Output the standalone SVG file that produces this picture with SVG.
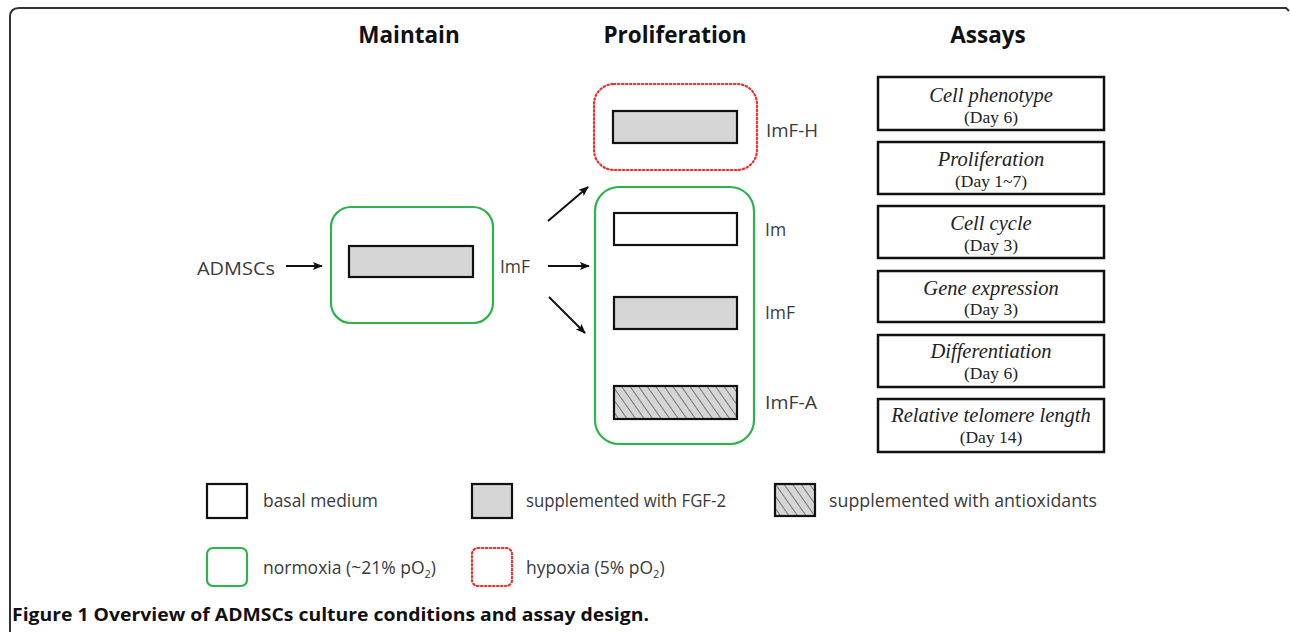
<svg xmlns="http://www.w3.org/2000/svg" width="1290" height="632" viewBox="0 0 1290 632">
<style>
.sans{font-family:"Open Sans","Noto Sans","Liberation Sans",sans-serif;fill:#3a3a3a}
.head{font-family:"Open Sans","Liberation Sans",sans-serif;font-weight:bold;font-size:22.5px;fill:#111;text-anchor:middle}
.lbl{font-size:17.5px}
.norm{fill:none;stroke:#2db34a;stroke-width:2.2}
.hyp{fill:none;stroke:#f03030;stroke-width:2.2;stroke-dasharray:1.5 2.5;stroke-linecap:round}
.med{stroke:#111;stroke-width:2.2}
.assay{fill:#fff;stroke:#111;stroke-width:2.5}
.at{font-family:"Liberation Serif","Times New Roman",serif;fill:#222;text-anchor:middle}
.ai{font-style:italic;font-size:20.5px}
.ad{font-size:17.5px}
.conn{stroke:#111;stroke-width:2;fill:none;marker-end:url(#ah)}
</style>
<defs>
<marker id="ah" viewBox="0 0 10 10" refX="9" refY="5" markerWidth="5" markerHeight="5" orient="auto" markerUnits="strokeWidth">
<path d="M0,1 L10,5 L0,9 L2,5 z" fill="#111"/>
</marker>
<pattern id="hatch" patternUnits="userSpaceOnUse" width="7" height="7" patternTransform="rotate(-35)">
<rect width="7" height="7" fill="#d6d6d6"/>
<line x1="0" y1="0" x2="0" y2="7" stroke="#777" stroke-width="2"/>
</pattern>
</defs>
<rect width="1290" height="632" fill="#fff"/>
<path d="M10,632 L10,17 Q10,8 19,8 L1286,8 L1289,11" fill="none" stroke="#333" stroke-width="2"/>

<text class="head" x="409" y="43">Maintain</text>
<text class="head" x="675" y="43">Proliferation</text>
<text class="head" x="988" y="43">Assays</text>

<g id="admscs"><text class="sans" x="197" y="275" font-size="19" textLength="78" lengthAdjust="spacingAndGlyphs">ADMSCs</text></g>

<g id="maintain">
<rect class="norm" x="331" y="207" width="162" height="116" rx="20"/>
<rect class="med" x="349" y="246" width="124" height="31" fill="#d6d6d6"/>
<text class="sans lbl" x="500" y="273" textLength="30" lengthAdjust="spacingAndGlyphs">ImF</text>
</g>

<g id="hypoxia">
<rect class="hyp" x="594" y="84" width="163" height="86" rx="20"/>
<rect class="med" x="613" y="111" width="124" height="32" fill="#d6d6d6"/>
<text class="sans lbl" x="766" y="137" textLength="52" lengthAdjust="spacingAndGlyphs">ImF-H</text>
</g>

<g id="normoxia">
<rect class="norm" x="595" y="187" width="159" height="257" rx="24"/>
</g>
<g id="im">
<rect class="med" x="614" y="213" width="123" height="32" fill="#fff"/>
<text class="sans lbl" x="765" y="236">Im</text>
</g>
<g id="imf">
<rect class="med" x="614" y="297" width="123" height="32" fill="#d6d6d6"/>
<text class="sans lbl" x="765" y="319" textLength="30" lengthAdjust="spacingAndGlyphs">ImF</text>
</g>
<g id="imfa">
<rect class="med" x="614" y="386" width="123" height="33" fill="url(#hatch)"/>
<text class="sans lbl" x="765" y="409" textLength="52" lengthAdjust="spacingAndGlyphs">ImF-A</text>
</g>

<g id="connectors">
<line class="conn" x1="286" y1="266" x2="322" y2="266"/>
<line class="conn" x1="548" y1="221" x2="588" y2="187"/>
<line class="conn" x1="548" y1="266" x2="589" y2="266"/>
<line class="conn" x1="549" y1="297" x2="585" y2="333"/>
</g>

<g id="a1"><rect class="assay" x="878" y="77" width="226" height="53"/>
<text class="at ai" x="991" y="102">Cell phenotype</text><text class="at ad" x="991" y="123">(Day 6)</text></g>
<g id="a2"><rect class="assay" x="878" y="142" width="226" height="52"/>
<text class="at ai" x="991" y="166">Proliferation</text><text class="at ad" x="991" y="187">(Day 1~7)</text></g>
<g id="a3"><rect class="assay" x="878" y="206" width="226" height="52"/>
<text class="at ai" x="991" y="230">Cell cycle</text><text class="at ad" x="991" y="251">(Day 3)</text></g>
<g id="a4"><rect class="assay" x="878" y="271" width="226" height="51"/>
<text class="at ai" x="991" y="295">Gene expression</text><text class="at ad" x="991" y="315">(Day 3)</text></g>
<g id="a5"><rect class="assay" x="878" y="335" width="226" height="52"/>
<text class="at ai" x="991" y="358" font-size="17.5">Differentiation</text><text class="at ad" x="991" y="379">(Day 6)</text></g>
<g id="a6"><rect class="assay" x="878" y="399" width="226" height="53"/>
<text class="at ai" x="991" y="422" font-size="17.5">Relative telomere length</text><text class="at ad" x="991" y="443">(Day 14)</text></g>

<g id="legend">
<rect class="med" x="207" y="484" width="40" height="34" fill="#fff"/>
<text class="sans lbl" x="263" y="507" textLength="115" lengthAdjust="spacingAndGlyphs">basal medium</text>
<rect class="med" x="472" y="484" width="40" height="34" fill="#d6d6d6"/>
<text class="sans lbl" x="526" y="507" textLength="200" lengthAdjust="spacingAndGlyphs">supplemented with FGF-2</text>
<rect class="med" x="775" y="484" width="40" height="32" fill="url(#hatch)"/>
<text class="sans lbl" x="829" y="507" textLength="268" lengthAdjust="spacingAndGlyphs">supplemented with antioxidants</text>
<rect class="norm" x="207" y="548" width="40" height="38" rx="6"/>
<text class="sans lbl" x="263" y="574">normoxia (~21% pO<tspan font-size="11" dy="4">2</tspan><tspan dy="-4">)</tspan></text>
<rect class="hyp" x="472" y="548" width="40" height="38" rx="6"/>
<text class="sans lbl" x="526" y="574">hypoxia (5% pO<tspan font-size="11" dy="4">2</tspan><tspan dy="-4">)</tspan></text>
</g>

<text x="12" y="621" font-family="'Open Sans','Liberation Sans',sans-serif" font-weight="bold" font-size="18" fill="#111" textLength="637" lengthAdjust="spacingAndGlyphs">Figure 1 Overview of ADMSCs culture conditions and assay design.</text>
</svg>
